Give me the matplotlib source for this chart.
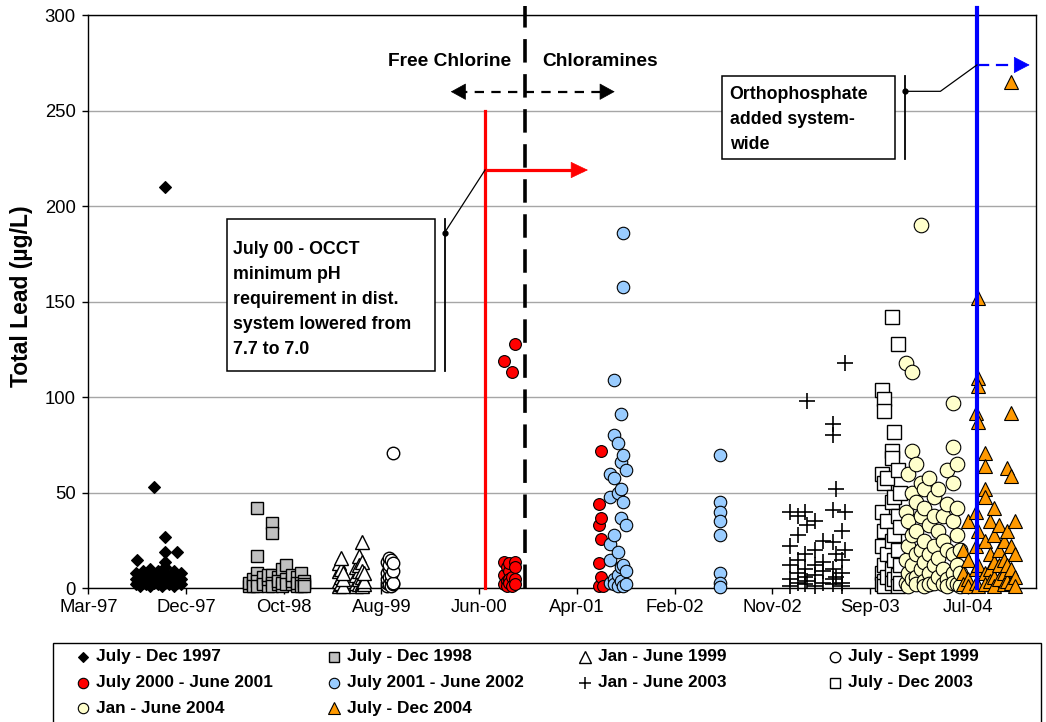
import pandas as pd
import matplotlib
matplotlib.use("Agg")
import matplotlib.pyplot as plt
import matplotlib.dates as mdates
from matplotlib.lines import Line2D
from matplotlib.patches import Rectangle

plt.rcParams['font.family'] = ['Liberation Sans', 'DejaVu Sans']

# Total lead samples (ug/L), grouped by sampling date
jul_dec_1997 = {
    "1997-07-25": [2, 5, 8], "1997-07-28": [15, 3], "1997-08-06": [1, 4, 7],
    "1997-08-16": [3, 6, 9], "1997-08-26": [2, 5, 8], "1997-09-06": [1, 4, 8, 10],
    "1997-09-20": [53, 3, 6], "1997-10-02": [2, 7, 9], "1997-10-12": [1, 4, 6],
    "1997-10-23": [210, 27, 19, 14, 11, 8, 3], "1997-11-05": [2, 5, 6],
    "1997-11-18": [1, 4, 9], "1997-11-29": [19, 3, 7], "1997-12-10": [2, 5, 8],
}
jul_dec_1998 = {
    "1998-07-06": [1, 3], "1998-07-20": [2, 5, 1], "1998-08-02": [42, 17, 8, 4, 1],
    "1998-08-20": [3, 6, 2], "1998-09-05": [1, 5, 7], "1998-09-17": [34, 29, 7, 3, 1],
    "1998-10-05": [2, 6, 4], "1998-10-18": [1, 3, 10], "1998-10-30": [12, 5, 2],
    "1998-11-15": [2, 4, 7], "1998-12-01": [1, 6, 3], "1998-12-13": [8, 3, 1],
    "1998-12-22": [4, 2, 1],
}
jan_jun_1999 = {
    "1999-04-10": [1, 4, 9, 13], "1999-04-16": [2, 6, 10, 16, 3], "1999-04-22": [1, 5, 8],
    "1999-06-02": [1, 3, 7, 11], "1999-06-09": [17, 2, 5, 9, 12],
    "1999-06-18": [24, 14, 6, 3, 1, 9], "1999-06-26": [2, 4, 8],
}
jul_sep_1999 = {
    "1999-09-03": [1, 3, 5, 8, 14], "1999-09-09": [16, 2, 6, 10, 12],
    "1999-09-15": [15, 4, 7, 1], "1999-09-21": [71, 2, 3, 9, 13],
}
jul2000_jun2001 = {
    "2000-08-28": [119, 14, 7, 2], "2000-09-05": [11, 4, 1], "2000-09-13": [9, 5, 3, 13],
    "2000-09-21": [113, 6, 1], "2000-09-30": [128, 14, 11, 5, 2],
    "2001-06-16": [44, 33, 13, 1], "2001-06-22": [72, 37, 26, 6], "2001-06-28": [1],
}
jul2001_jun2002 = {
    "2001-07-19": [60, 48, 23, 15, 3], "2001-07-31": [109, 80, 58, 28, 5, 2],
    "2001-08-13": [76, 50, 19, 7, 1], "2001-08-22": [91, 66, 52, 37, 11, 4],
    "2001-08-28": [186, 158, 70, 45, 12, 1], "2001-09-06": [62, 33, 9, 2],
    "2002-06-22": [70, 45, 40, 35, 28, 8, 3, 0.5],
}
jan_jun_2003 = {
    "2003-01-22": [40, 22, 12, 5, 1], "2003-02-16": [38, 28, 15, 8, 3],
    "2003-03-09": [40, 18, 10, 6, 2], "2003-03-18": [98, 33, 4],
    "2003-04-09": [35, 20, 12, 7, 1], "2003-05-04": [25, 14, 9, 3],
    "2003-06-04": [86, 80, 41, 24, 10, 5, 2], "2003-06-12": [52, 18, 6],
    "2003-07-01": [30, 15, 8, 3, 1], "2003-07-10": [118, 40, 20],
}
jul_dec_2003 = {
    "2003-11-03": [104, 60, 40, 22, 8, 2], "2003-11-09": [99, 93, 55, 30, 12, 4, 1],
    "2003-11-18": [58, 35, 18, 6], "2003-12-01": [142, 72, 68, 45, 25, 10, 3],
    "2003-12-10": [82, 48, 28, 15, 5], "2003-12-20": [128, 62, 38, 20, 7, 1],
    "2003-12-28": [50, 32, 12, 3],
}
jan_jun_2004 = {
    "2004-01-13": [118, 40, 15, 3], "2004-01-22": [60, 35, 22, 8, 1],
    "2004-02-01": [113, 72, 50, 28, 12, 5], "2004-02-14": [65, 45, 30, 18, 6, 2],
    "2004-02-28": [190, 55, 38, 20, 10], "2004-03-10": [52, 42, 25, 14, 4, 1],
    "2004-03-24": [58, 33, 18, 8, 2], "2004-04-08": [48, 38, 22, 12, 3],
    "2004-04-22": [52, 30, 16, 6], "2004-05-06": [38, 25, 10, 2],
    "2004-05-20": [62, 44, 20, 5, 1], "2004-06-06": [97, 74, 55, 35, 18, 8, 3],
    "2004-06-18": [65, 42, 28, 12, 2], "2004-06-29": [20, 8, 1],
}
jul_dec_2004 = {
    "2004-07-08": [20, 8, 2], "2004-07-22": [35, 15, 5, 1],
    "2004-08-15": [92, 40, 22, 10, 3], "2004-08-21": [152, 110, 106, 87, 30, 12, 1],
    "2004-09-12": [71, 64, 52, 48, 25, 8, 2], "2004-09-28": [35, 18, 10, 4],
    "2004-10-12": [42, 28, 14, 6, 1], "2004-10-26": [33, 20, 12, 5],
    "2004-11-09": [25, 15, 8, 2], "2004-11-21": [63, 30, 12, 4],
    "2004-12-01": [265, 92, 59, 22, 10, 3], "2004-12-15": [35, 18, 6, 1],
}

series = [jul_dec_1997, jul_dec_1998, jan_jun_1999, jul_sep_1999, jul2000_jun2001,
          jul2001_jun2002, jan_jun_2003, jul_dec_2003, jan_jun_2004, jul_dec_2004]
series_labels = ["July - Dec 1997", "July - Dec 1998", "Jan - June 1999", "July - Sept 1999",
                 "July 2000 - June 2001", "July 2001 - June 2002", "Jan - June 2003",
                 "July - Dec 2003", "Jan - June 2004", "July - Dec 2004"]

# Axis range and date ticks (every 300 days)
x_start, x_end = "1997-03-01", "2005-02-18"
y_ticks = [0, 50, 100, 150, 200, 250, 300]

# Treatment events
ph_change_date = "2000-07-01"
chloramine_date = "2000-11-01"
orthophosphate_date = "2004-08-19"

styles = [
    dict(marker='D', ms=6.0, mfc='black', mec='black', mew=0.8),
    dict(marker='s', ms=8.0, mfc='#C0C0C0', mec='black', mew=1.0),
    dict(marker='^', ms=10, mfc='white', mec='black', mew=1.0),
    dict(marker='o', ms=9, mfc='white', mec='black', mew=1.0),
    dict(marker='o', ms=8.5, mfc='#FF0000', mec='black', mew=0.8),
    dict(marker='o', ms=9, mfc='#99CCFF', mec='black', mew=0.8),
    dict(marker='+', ms=12, mfc='none', mec='black', mew=1.2),
    dict(marker='s', ms=9.5, mfc='white', mec='black', mew=1.0),
    dict(marker='o', ms=10.5, mfc='#FFFFCC', mec='black', mew=0.8),
    dict(marker='^', ms=10.5, mfc='#FF9900', mec='black', mew=0.8),
]
legend_styles = [
    dict(marker='D', ms=5.5, mfc='black', mec='black', mew=0.8),
    dict(marker='s', ms=7.5, mfc='#C0C0C0', mec='black', mew=1.0),
    dict(marker='^', ms=8.5, mfc='white', mec='black', mew=1.0),
    dict(marker='o', ms=7.5, mfc='white', mec='black', mew=1.0),
    dict(marker='o', ms=7.5, mfc='#FF0000', mec='black', mew=0.8),
    dict(marker='o', ms=7.5, mfc='#99CCFF', mec='black', mew=0.8),
    dict(marker='+', ms=9, mfc='none', mec='black', mew=1.1),
    dict(marker='s', ms=7.5, mfc='white', mec='black', mew=1.0),
    dict(marker='o', ms=7.5, mfc='#FFFFCC', mec='black', mew=0.8),
    dict(marker='^', ms=8.5, mfc='#FF9900', mec='black', mew=0.8),
]


def d(s):
    return mdates.date2num(pd.Timestamp(s))


def flatten(samples):
    xs, ys = [], []
    for day, vals in samples.items():
        xs += [d(day)] * len(vals)
        ys += vals
    return xs, ys


fig = plt.figure(figsize=(10.46, 7.22), dpi=100)
ax = fig.add_axes([0.0844, 0.1852, 0.9065, 0.7936])

for i, (samples, st) in enumerate(zip(series, styles)):
    xs, ys = flatten(samples)
    ax.plot(xs, ys, linestyle='none', clip_on=False, zorder=3 + i, **st)

ax.set_xlim(d(x_start), d(x_end))
ax.set_ylim(0, 300)
ticks = pd.date_range(x_start, periods=10, freq='300D')
ax.set_xticks(mdates.date2num(ticks))
ax.set_xticklabels([t.strftime('%b-%y') for t in ticks])
ax.set_yticks(y_ticks)
ax.yaxis.grid(True, color='#A6A6A6', lw=1)
ax.set_axisbelow(True)
for sp in ax.spines.values():
    sp.set_linewidth(1.0)
    sp.set_color('black')
ax.tick_params(axis='both', direction='out', length=4, width=1, labelsize=13.3, colors='black')
ax.tick_params(axis='y', pad=5)
ax.tick_params(axis='x', pad=4)
ax.set_ylabel('Total Lead (µg/L)', fontsize=16.5, fontweight='bold')
ax.yaxis.set_label_coords(-0.058, 0.51)

EV = 20
# pH change: red marker line with arrow
ax.plot([d(ph_change_date)] * 2, [0, 250], color='#FF0000', lw=2.3, zorder=EV, clip_on=False)
ax.plot([d(ph_change_date), d("2001-04-25")], [219, 219], color='#FF0000', lw=2.3, zorder=EV)
ax.annotate("", xy=(d("2001-05-13"), 219), xytext=(d("2001-04-20"), 219),
            arrowprops=dict(arrowstyle="-|>,head_length=1.15,head_width=0.55", color='#FF0000',
                            lw=0.5, shrinkA=0, shrinkB=0, mutation_scale=10), zorder=EV)

# Switch from free chlorine to chloramines
ax.plot([d(chloramine_date)] * 2, [0, 305], color='black', lw=2.6, zorder=EV, clip_on=False,
        linestyle=(0, (6.5, 3.2)))
ax.plot([d("2000-04-08"), d("2001-07-12")], [260, 260], color='black', lw=1.6,
        linestyle=(0, (4.2, 3.3)), zorder=EV)
for tip, base in [("2000-03-18", "2000-04-12"), ("2001-08-03", "2001-07-08")]:
    ax.annotate("", xy=(d(tip), 260), xytext=(d(base), 260),
                arrowprops=dict(arrowstyle="-|>,head_length=1.0,head_width=0.55", color='black',
                                lw=0.5, shrinkA=0, shrinkB=0, mutation_scale=10), zorder=EV)
ax.text(d("2000-03-13"), 276, "Free Chlorine", ha='center', va='center',
        fontsize=13.8, fontweight='bold', zorder=EV)
ax.text(d("2001-06-18"), 276, "Chloramines", ha='center', va='center',
        fontsize=13.8, fontweight='bold', zorder=EV)

# Orthophosphate: blue marker line with dashed arrow
ax.plot([d(orthophosphate_date)] * 2, [0, 304], color='#0000FF', lw=3.0, zorder=EV, clip_on=False)
ax.plot([d(orthophosphate_date), d("2005-01-05")], [274, 274], color='#0000FF', lw=1.6,
        linestyle=(0, (5.5, 3)), zorder=EV)
ax.annotate("", xy=(d("2005-01-28"), 274), xytext=(d("2005-01-05"), 274),
            arrowprops=dict(arrowstyle="-|>,head_length=1.05,head_width=0.55", color='#0000FF',
                            lw=0.5, shrinkA=0, shrinkB=0, mutation_scale=10), zorder=EV)

# Callout: pH requirement
x0, x1 = d("1998-04-30"), d("2000-01-29")
ax.add_patch(Rectangle((x0, 113.9), x1 - x0, 193.5 - 113.9, facecolor='white',
                       edgecolor='black', lw=1.1, zorder=EV + 1))
ax.text(d("1998-05-20"), 182.0,
        "July 00 - OCCT\nminimum pH\nrequirement in dist.\nsystem lowered from\n7.7 to 7.0",
        ha='left', va='top', fontsize=12.8, fontweight='bold', linespacing=1.62, zorder=EV + 2)
ax.plot([d("2000-02-28")] * 2, [113.9, 193.5], color='black', lw=1.3, zorder=EV + 1)
ax.plot([d("2000-02-28"), d(ph_change_date)], [186.2, 219], color='black', lw=0.9, zorder=EV + 1)
ax.plot([d("2000-02-28")], [186.2], marker='o', ms=3.5, color='black', zorder=EV + 2)

# Callout: orthophosphate
x0, x1 = d("2002-06-30"), d("2003-12-11")
ax.add_patch(Rectangle((x0, 225), x1 - x0, 268.1 - 225, facecolor='white',
                       edgecolor='black', lw=1.1, zorder=EV + 1))
ax.text(d("2002-07-22"), 263.0, "Orthophosphate\nadded system-\nwide",
        ha='left', va='top', fontsize=12.8, fontweight='bold', linespacing=1.62, zorder=EV + 2)
ax.plot([d("2004-01-10")] * 2, [225, 268.1], color='black', lw=1.3, zorder=EV + 1)
ax.plot([d("2004-01-10"), d("2004-04-29"), d(orthophosphate_date)], [260.2, 260.2, 274],
        color='black', lw=0.9, zorder=EV + 1)
ax.plot([d("2004-01-10")], [260.2], marker='o', ms=3.5, color='black', zorder=EV + 2)

# Legend: four columns, filled row by row
fig.add_artist(Rectangle((0.0507, -0.003), 0.9446, 0.1124, transform=fig.transFigure,
                         fill=False, edgecolor='black', lw=1.0))
row_y = [0.0904, 0.0547, 0.0187]
for i, (label, st) in enumerate(zip(series_labels, legend_styles)):
    r, c = divmod(i, 4)
    mx = 0.0796 + 0.2396 * c
    fig.add_artist(Line2D([mx], [row_y[r]], transform=fig.transFigure, linestyle='none', **st))
    fig.text(mx + 0.0125, row_y[r], label, ha='left', va='center', fontsize=12.4, fontweight='bold')

fig.savefig("out.png", dpi=100)
